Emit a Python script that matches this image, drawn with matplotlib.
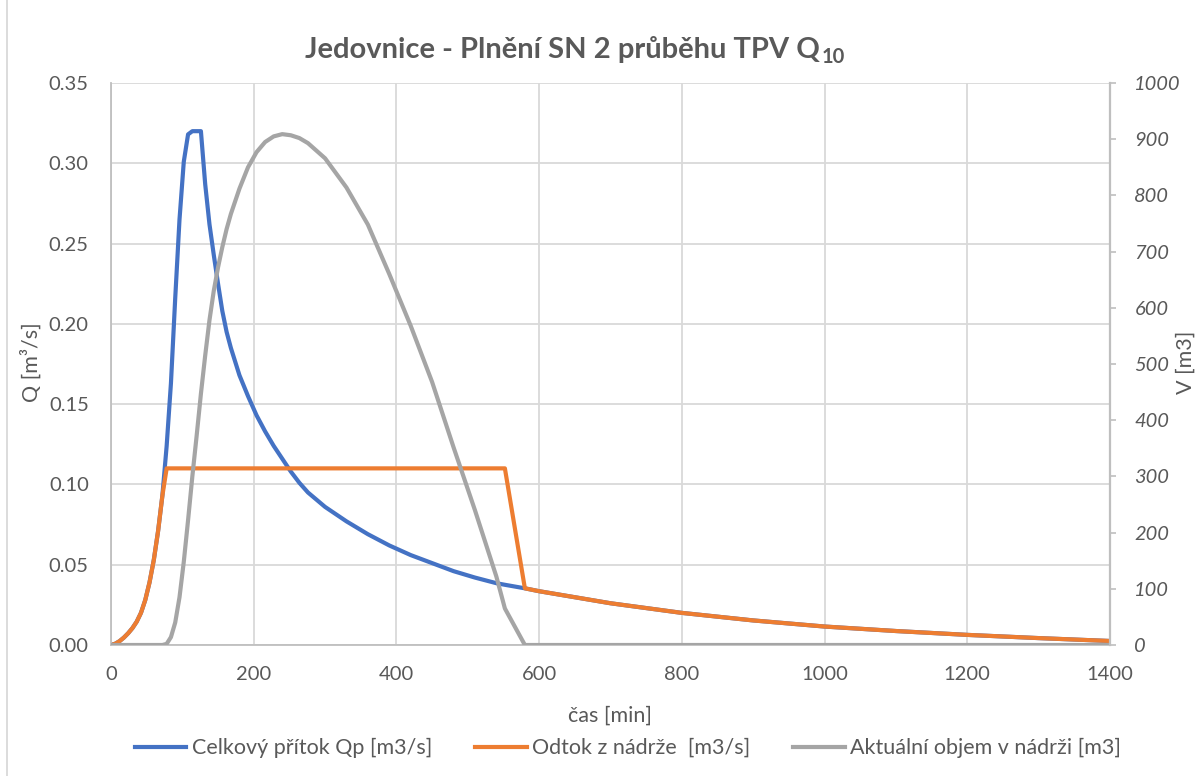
import matplotlib
matplotlib.use("Agg")
import matplotlib.pyplot as plt
from matplotlib.lines import Line2D
from matplotlib.ticker import FormatStrFormatter, MultipleLocator

plt.rcParams['font.family'] = ['Lato', 'DejaVu Sans']

# time axis [min]
time_min = [0, 6, 12, 18, 24, 30, 36, 42, 48, 54, 60, 66, 72, 78, 84, 90, 96,
            102, 108, 114, 120, 126, 132, 138, 144, 150, 156, 162, 168,
            180, 192, 204, 216, 228, 240, 252, 264, 276,
            300, 330, 360, 390, 420, 450, 480, 510, 540,
            552, 580,
            600, 700, 800, 900, 1000, 1100, 1200, 1300, 1400]

# total inflow Qp [m3/s]
inflow = [0.0, 0.0008, 0.0024, 0.0046, 0.0073, 0.0105, 0.0145, 0.0200, 0.0280,
          0.0390, 0.0530, 0.0710, 0.0930, 0.1240, 0.1630, 0.2160, 0.2650,
          0.3010, 0.3180, 0.3200, 0.3200, 0.3200, 0.2870, 0.2620, 0.2430,
          0.2250, 0.2080, 0.1950, 0.1850,
          0.1680, 0.1550, 0.1430, 0.1330, 0.1240, 0.1160, 0.1080, 0.1010, 0.0950,
          0.0860, 0.0770, 0.0690, 0.0620, 0.0560, 0.0510, 0.0460, 0.0420, 0.0385,
          0.0375, 0.0353,
          0.0335, 0.0260, 0.0200, 0.0153, 0.0115, 0.0087, 0.0063, 0.0043, 0.0025]

# outflow from the reservoir [m3/s]
outflow = [0.0, 0.0008, 0.0024, 0.0046, 0.0073, 0.0105, 0.0145, 0.0200, 0.0280,
           0.0390, 0.0530, 0.0710, 0.0930, 0.1100, 0.1100, 0.1100, 0.1100,
           0.1100, 0.1100, 0.1100, 0.1100, 0.1100, 0.1100, 0.1100, 0.1100,
           0.1100, 0.1100, 0.1100, 0.1100,
           0.1100, 0.1100, 0.1100, 0.1100, 0.1100, 0.1100, 0.1100, 0.1100, 0.1100,
           0.1100, 0.1100, 0.1100, 0.1100, 0.1100, 0.1100, 0.1100, 0.1100, 0.1100,
           0.1100, 0.0353,
           0.0335, 0.0260, 0.0200, 0.0153, 0.0115, 0.0087, 0.0063, 0.0043, 0.0025]

# current stored volume [m3]
volume = [0, 0, 0, 0, 0, 0, 0, 0, 0, 0, 0, 0, 0, 2, 14, 40, 85,
          148, 222, 300, 372, 447, 515, 578, 630, 672, 708, 740, 767,
          812, 850, 877, 895, 905, 909, 907, 902, 893,
          866, 814, 748, 660, 568, 468, 352, 240, 122,
          65, 0,
          0, 0, 0, 0, 0, 0, 0, 0, 0]

x_ticks = [0, 200, 400, 600, 800, 1000, 1200, 1400]

title_main = "Jedovnice - Plnění SN 2 průběhu TPV Q"
title_sub = "10"
x_label = "čas [min]"
y_label = "Q [m³/s]"
y2_label = "V [m3]"
series_names = ["Celkový přítok Qp [m3/s]", "Odtok z nádrže  [m3/s]",
                "Aktuální objem v nádrži [m3]"]

BLUE, ORANGE, GREY = "#4472C4", "#ED7D31", "#A5A5A5"
TXT = "#595959"
GRID = "#D9D9D9"
AXLINE = "#BFBFBF"

W, H = 1197, 776
fig = plt.figure(figsize=(W / 100, H / 100), dpi=100)


def fx(px):
    return px / W


def fy(py):
    return 1 - py / H


ax = fig.add_axes([fx(111), fy(645), fx(1110) - fx(111), fy(83) - fy(645)])
ax2 = ax.twinx()

lw = 3.0
ax.plot(time_min, inflow, color=BLUE, lw=lw, solid_joinstyle='round', solid_capstyle='round')
ax.plot(time_min, outflow, color=ORANGE, lw=lw, solid_joinstyle='round', solid_capstyle='round')
ax2.plot(time_min, volume, color=GREY, lw=lw, solid_joinstyle='round', solid_capstyle='round')

ax.set_xlim(0, 1400)
ax.set_ylim(0, 0.35)
ax2.set_ylim(0, 1000)
ax.set_xticks(x_ticks)
ax.yaxis.set_major_locator(MultipleLocator(0.05))
ax.yaxis.set_major_formatter(FormatStrFormatter('%.2f'))
ax2.yaxis.set_major_locator(MultipleLocator(100))

ax.set_axisbelow(True)
ax.grid(True, color=GRID, lw=1.3)

for side in ("top", "right"):
    ax.spines[side].set_visible(False)
for side in ("left", "bottom"):
    ax.spines[side].set_color(AXLINE)
    ax.spines[side].set_linewidth(1.3)
for side in ("top", "left", "bottom"):
    ax2.spines[side].set_visible(False)
ax2.spines["right"].set_color(AXLINE)
ax2.spines["right"].set_linewidth(1.6)

ax.tick_params(axis='both', length=0, labelsize=14.5, labelcolor=TXT)
ax.tick_params(axis='y', pad=16)
ax.tick_params(axis='x', pad=15)
ax2.tick_params(axis='y', length=4.5, width=1.2, color=AXLINE, labelsize=14.5,
                labelcolor=TXT, pad=13)
for lab in ax2.get_yticklabels():
    lab.set_style('italic')

# title with subscript, centred as a whole
renderer = fig.canvas.get_renderer()
t1 = fig.text(0, fy(58), title_main, fontsize=21, fontweight='bold',
              color=TXT, ha='left', va='baseline')
t2 = fig.text(0, fy(63), title_sub, fontsize=14.5, fontweight='bold',
              color=TXT, ha='left', va='baseline')
w1 = t1.get_window_extent(renderer).width
w2 = t2.get_window_extent(renderer).width
x0 = 575 - (w1 + 1 + w2) / 2
t1.set_x(fx(x0))
t2.set_x(fx(x0 + w1 + 1))

fig.text(fx(610), fy(716), x_label, fontsize=15.5, color=TXT, ha='center', va='center')
fig.text(fx(31), fy(362), y_label, fontsize=15.5, color=TXT, ha='center', va='center',
         rotation=90)
fig.text(fx(1176), fy(362), y2_label, fontsize=15.5, color=TXT, ha='left', va='center',
         rotation=90)

handles = [Line2D([], [], color=c, lw=lw) for c in (BLUE, ORANGE, GREY)]
fig.legend(handles, series_names, loc='center', bbox_to_anchor=(fx(628), fy(748)),
           ncol=3, frameon=False, fontsize=15.5, labelcolor=TXT,
           handlelength=2.4, handletextpad=0.25, columnspacing=2.0)

# chart frame
fig.add_artist(Line2D([fx(7), fx(7)], [0, 1], color=GRID, lw=1.3,
                      transform=fig.transFigure))

fig.savefig("out.png", dpi=100)
